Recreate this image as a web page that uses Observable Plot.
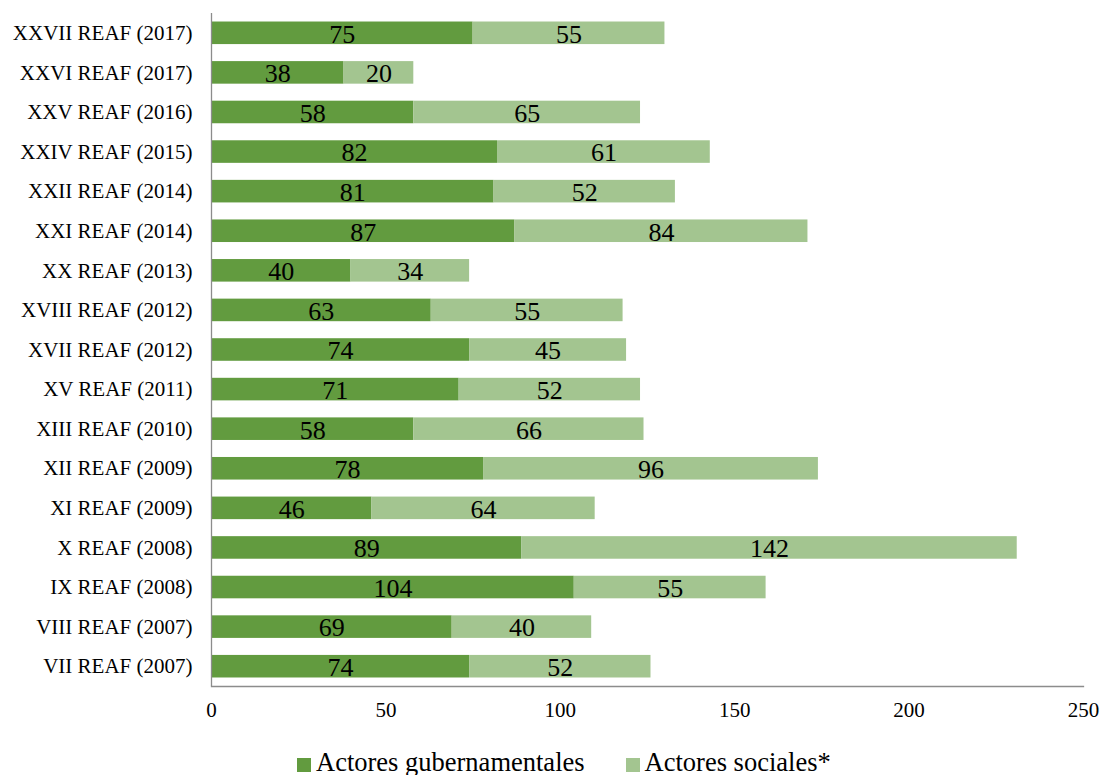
<!DOCTYPE html>
<html>
<head>
<meta charset="utf-8">
<script src="https://cdn.jsdelivr.net/npm/d3@7"></script>
<script src="https://cdn.jsdelivr.net/npm/@observablehq/plot@0.6"></script>
<style>
  html, body { margin: 0; padding: 0; background: #fff; overflow: hidden; }
  body { width: 1104px; height: 775px; font-family: 'Liberation Serif', 'Times New Roman', serif; }
  #chart svg, #chart svg text { font-family: 'Liberation Serif', 'Times New Roman', serif !important; }
  #legend { display: flex; align-items: center; margin-left: 297px; margin-top: 7px; font-size: 26.5px; line-height: 30px; color: #000; }
  .item { display: flex; align-items: center; margin-right: 41px; }
  .sw { width: 14px; height: 14px; margin-right: 5px; margin-top: 5px; }
</style>
</head>
<body>
<div id="chart"></div>
<div id="legend"></div>
<script>
const categories = [
  "XXVII REAF (2017)", "XXVI REAF (2017)", "XXV REAF (2016)", "XXIV REAF (2015)",
  "XXII REAF (2014)", "XXI REAF (2014)", "XX REAF (2013)", "XVIII REAF (2012)",
  "XVII REAF (2012)", "XV REAF (2011)", "XIII REAF (2010)", "XII REAF (2009)",
  "XI REAF (2009)", "X REAF (2008)", "IX REAF (2008)", "VIII REAF (2007)", "VII REAF (2007)"
];
const gubernamentales = [75, 38, 58, 82, 81, 87, 40, 63, 74, 71, 58, 78, 46, 89, 104, 69, 74];
const sociales = [55, 20, 65, 61, 52, 84, 34, 55, 45, 52, 66, 96, 64, 142, 55, 40, 52];
const seriesNames = ["Actores gubernamentales", "Actores sociales*"];
const seriesColors = ["#629B3F", "#A3C590"];
const xTicks = [0, 50, 100, 150, 200, 250];

const data = [];
categories.forEach((c, i) => {
  data.push({cat: c, series: seriesNames[0], value: gubernamentales[i]});
  data.push({cat: c, series: seriesNames[1], value: sociales[i]});
});

const chart = Plot.plot({
  width: 1104,
  height: 740,
  marginLeft: 211,
  marginRight: 21,
  marginTop: 13,
  marginBottom: 54,
  style: {fontFamily: "'Liberation Serif', 'Times New Roman', serif", background: "#fff"},
  x: {domain: [0, 250], ticks: xTicks},
  y: {domain: categories, paddingInner: 0.43, paddingOuter: 0.215, round: false},
  color: {domain: seriesNames, range: seriesColors},
  marks: [
    Plot.barX(data, {x: "value", y: "cat", fill: "series", z: "series"}),
    Plot.text(data, Plot.stackX({x: "value", y: "cat", z: "series", text: d => String(d.value), fontSize: 26, fill: "#000", dy: 1})),
    Plot.ruleX([0], {stroke: "#8c8c8c", strokeWidth: 1.3}),
    Plot.frame({anchor: "bottom", stroke: "#8c8c8c", strokeWidth: 1.3}),
    Plot.axisX({ticks: xTicks, tickSize: 0, tickPadding: 16, fontSize: 21, label: null, tickFormat: d => String(d)}),
    Plot.axisY({tickSize: 0, tickPadding: 19, fontSize: 21, label: null})
  ]
});
document.getElementById("chart").appendChild(chart);

const legend = document.getElementById("legend");
seriesNames.forEach((s, i) => {
  const item = document.createElement("div");
  item.className = "item";
  const sw = document.createElement("div");
  sw.className = "sw";
  sw.style.background = seriesColors[i];
  const t = document.createElement("span");
  t.textContent = s;
  item.appendChild(sw);
  item.appendChild(t);
  legend.appendChild(item);
});
</script>
</body>
</html>
